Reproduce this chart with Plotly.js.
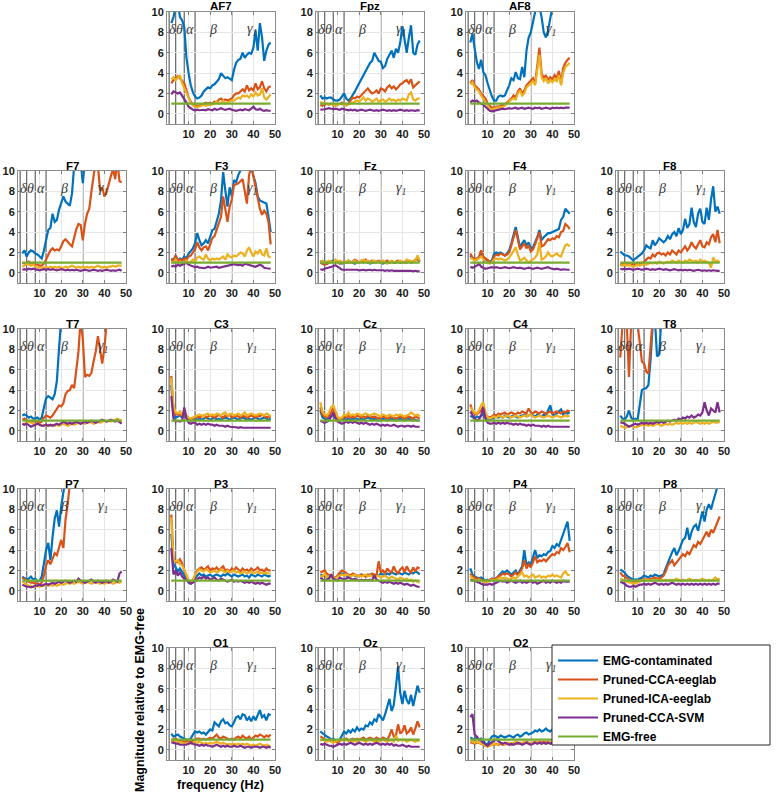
<!DOCTYPE html>
<html>
<head>
<meta charset="utf-8">
<script src="https://cdn.plot.ly/plotly-3.0.1.min.js"></script>
<style>html,body{margin:0;padding:0;background:#fff;}#chart{width:780px;height:792px;}</style>
</head>
<body>
<div id="chart"></div>
<script>
// ---------------- DATA ----------------
const freqs = [2,3,4,5,6,7,8,9,10,11,12,13,14,15,16,17,18,19,20,21,22,23,24,25,26,27,28,29,30,31,32,33,34,35,36,37,38,39,40,41,42,43,44,45,46,47,48];
const emgFree = [1,1,1,1,1,1,1,1,1,1,1,1,1,1,1,1,1,1,1,1,1,1,1,1,1,1,1,1,1,1,1,1,1,1,1,1,1,1,1,1,1,1,1,1,1,1,1];
const seriesNames = ['EMG-contaminated','Pruned-CCA-eeglab','Pruned-ICA-eeglab','Pruned-CCA-SVM','EMG-free'];
const channels = ['AF7','Fpz','AF8','F7','F3','Fz','F4','F8','T7','C3','Cz','C4','T8','P7','P3','Pz','P4','P8','O1','Oz','O2'];
const xTickVals = [10,20,30,40,50];
const yTickVals = [0,2,4,6,8,10];
const bandEdges = [1,4,8,13,30];
const bandLabels = ['δ','θ','α','β','γ<sub>1</sub>'];
const bandLabelFreq = [2.5,6,10.6,21.5,39.5];
const bandLabelLevel = 8.3;

const AF7_emg = [8.9,9.5,10.5,11,9.5,9.2,8.5,5.5,4.0,2.8, 2.1,1.7,1.5,1.6,1.8,2.2,2.4,2.6,2.5,2.8, 2.9,3.1,3.4,4.0,3.7,3.5,3.6,3.4,3.3,4.3, 5.0,5.3,5.4,6.0,5.5,5.8,6.0,5.9,6.5,8.2, 6.2,8.9,7.5,5.2,6.2,6.8,7.0];
const AF7_cca = [3.0,3.3,3.4,3.7,3.5,3.3,3.0,2.3,1.6,1.2, 0.9,0.8,0.75,0.8,0.9,1.0,1.1,1.0,1.1,1.0, 1.2,1.1,1.4,1.5,1.3,1.4,1.3,1.4,1.5,1.8, 2.0,2.0,2.2,2.4,2.2,2.8,2.3,2.5,2.3,3.0, 2.4,2.6,3.2,2.5,2.2,2.6,2.7];
const AF7_ica = [3.4,3.6,3.3,3.5,3.8,3.0,2.5,2.0,1.5,1.1, 0.8,0.7,0.65,0.7,0.8,0.9,0.8,0.9,0.85,0.9, 1.0,1.2,1.0,1.1,1.3,1.0,1.1,1.2,1.3,1.3, 1.5,1.6,1.5,1.8,1.7,1.8,1.6,1.9,1.7,2.1, 1.8,1.9,2.5,1.6,1.4,1.7,1.9];
const AF7_svm = [1.9,2.2,2.1,2.0,2.1,1.8,1.5,1.1,0.7,0.5, 0.4,0.35,0.4,0.35,0.4,0.4,0.35,0.45,0.4,0.35, 0.5,0.4,0.45,0.55,0.45,0.4,0.45,0.5,0.4,0.35, 0.3,0.35,0.4,0.35,0.45,0.4,0.35,0.5,0.7,0.45, 0.4,0.5,0.35,0.3,0.35,0.3,0.3];

const Fpz_emg = [1.8,1.5,1.6,1.5,1.6,1.6,1.4,1.3,1.3,1.4, 1.7,2.0,1.5,1.3,1.5,1.8,2.2,2.6,3.0,3.5, 3.8,4.2,4.6,5.0,5.2,6.0,5.6,5.2,5.1,4.5, 4.7,5.4,5.8,6.2,5.5,6.4,6.0,7.0,8.6,7.2, 6.0,7.5,8.7,6.0,5.8,6.8,7.2];
const Fpz_cca = [0.9,0.8,0.9,1.0,0.9,1.0,0.9,0.8,0.9,1.0, 1.1,1.0,0.9,1.0,1.3,1.6,1.5,1.7,1.6,1.8, 2.0,2.2,2.5,2.2,2.0,2.1,2.3,2.0,2.5,2.4, 2.2,2.6,2.8,2.5,2.7,2.4,2.6,2.9,3.0,3.2, 3.3,3.0,3.4,2.6,2.8,3.1,3.2];
const Fpz_ica = [1.2,1.0,1.1,1.0,0.9,1.0,0.9,0.8,0.9,1.0, 0.9,1.0,0.8,0.9,1.0,1.1,1.2,1.3,1.2,1.4, 1.6,1.3,1.5,1.4,1.2,1.3,1.5,1.2,1.3,1.4, 1.2,1.3,1.5,1.3,1.4,1.2,1.4,1.3,1.5,1.4, 1.3,1.9,2.1,1.4,1.3,1.5,1.5];
const Fpz_svm = [0.4,0.4,0.45,0.5,0.55,0.5,0.45,0.5,0.45,0.4, 0.5,0.45,0.4,0.35,0.4,0.35,0.4,0.3,0.35,0.4, 0.35,0.3,0.35,0.4,0.35,0.3,0.35,0.3,0.35,0.4, 0.35,0.3,0.35,0.3,0.35,0.3,0.35,0.4,0.35,0.3, 0.35,0.3,0.35,0.3,0.3,0.35,0.3];

const AF8_emg = [7.0,7.9,6.4,5.1,4.4,5.3,4.1,3.8,3.0,2.3, 1.7,1.3,1.3,1.7,1.8,1.7,1.8,2.3,2.8,3.5, 3.3,4.1,3.5,3.4,4.6,3.6,6.2,7.5,8.0,9.0, 10.5,11,10.5,9.5,8.0,7.5,8.2,9.5,10.5,11, 11,11,11,11,11,11,11];
const AF8_cca = [3.0,3.3,2.8,2.6,2.4,2.0,1.8,1.5,1.0,0.8, 0.6,0.6,0.7,0.7,0.8,0.9,0.9,1.1,1.2,1.5, 1.8,1.6,2.2,2.5,2.0,2.3,2.8,3.0,3.2,3.5, 3.0,5.0,6.5,4.0,3.5,3.8,3.3,3.6,3.4,3.8, 3.5,4.2,3.0,4.5,5.0,5.3,5.5];
const AF8_ica = [2.9,3.1,2.6,2.4,2.2,1.8,1.5,1.2,0.8,0.5, 0.4,0.5,0.6,0.6,0.7,0.6,0.8,1.0,1.1,1.4, 1.5,1.4,2.0,2.3,1.8,2.0,2.6,2.8,2.9,3.2, 2.8,4.5,5.8,3.6,3.2,3.5,3.0,3.3,3.1,3.4, 3.2,3.8,2.8,4.0,4.6,4.8,5.0];
const AF8_svm = [1.1,1.3,1.2,1.3,1.1,1.0,0.9,0.7,0.5,0.3, 0.25,0.3,0.35,0.4,0.45,0.5,0.45,0.5,0.55,0.5, 0.55,0.6,0.5,0.55,0.6,0.5,0.55,0.6,0.55,0.5, 0.6,0.55,0.6,0.5,0.55,0.6,0.55,0.5,0.6,0.55, 0.6,0.55,0.6,0.55,0.6,0.6,0.6];

const F7_emg = [1.9,2.2,1.6,2.0,2.2,2.1,1.9,1.8,1.6,1.4, 2.2,3.2,4.2,4.4,5.8,5.0,5.2,6.2,6.8,7.5, 7.0,6.8,6.6,7.8,10.5,11,11,11,8.8,11, 11,11,11,11,11,11,11,11,11,11, 11,11,11,11,11,11,11];
const F7_cca = [1.0,0.9,1.0,1.1,0.9,1.0,0.9,0.8,0.7,0.7, 0.9,1.3,1.8,2.2,2.4,2.2,2.3,2.2,2.6,3.1, 3.3,3.0,2.8,2.6,3.4,4.3,4.8,4.7,3.2,4.8, 5.8,6.3,8.0,9.6,11,10.5,8.1,8.4,7.5,7.9, 8.8,9.5,10.2,9.2,11,9.0,8.9];
const F7_ica = [0.6,0.7,0.9,0.8,0.7,0.8,0.6,0.5,0.5,0.5, 0.5,0.6,0.5,0.6,0.5,0.6,0.5,0.6,0.5,0.5, 0.6,0.5,0.6,0.7,0.6,0.5,0.6,0.5,0.6,0.5, 0.6,0.5,0.6,0.5,0.6,0.7,0.6,0.5,0.6,0.5, 0.6,0.6,0.7,0.6,0.7,0.7,0.7];
const F7_svm = [0.3,0.35,0.3,0.4,0.35,0.4,0.35,0.3,0.25,0.3, 0.35,0.3,0.35,0.3,0.35,0.3,0.25,0.3,0.35,0.3, 0.25,0.3,0.25,0.3,0.25,0.3,0.25,0.2,0.25,0.3, 0.25,0.2,0.25,0.3,0.25,0.2,0.25,0.2,0.25,0.3, 0.25,0.2,0.25,0.2,0.25,0.3,0.2];

const F3_emg = [1.4,1.2,1.7,1.2,1.4,1.3,1.6,1.4,1.9,2.2, 2.4,2.9,3.9,3.2,2.7,2.9,3.2,2.9,3.5,4.2, 4.3,5.2,5.8,7.1,9.9,8.1,6.5,8.4,7.5,9.1, 8.9,9.6,10.2,10.5,10.2,11,11,10.5,9.5,8.8, 7.5,7.1,7.0,6.9,6.8,5.5,4.0];
const F3_cca = [1.3,1.2,1.7,1.2,1.3,1.2,1.4,1.3,1.6,1.7, 2.0,2.3,3.0,2.5,2.2,2.5,2.6,2.2,2.8,3.4, 3.6,4.2,4.8,5.5,7.5,6.3,5.0,6.5,7.2,8.6, 8.7,8.8,9.0,9.2,8.0,6.8,9.6,10.5,9.5,8.4, 7.3,6.3,5.7,6.1,5.8,5.0,2.8];
const F3_ica = [1.1,1.0,1.3,1.0,1.1,0.9,1.0,1.2,1.0,1.1, 1.3,1.1,1.5,1.6,1.4,1.3,1.8,1.4,1.2,1.4, 1.3,1.4,1.3,1.5,1.6,1.3,1.8,1.6,1.5,1.7, 1.6,1.8,2.0,1.9,1.6,2.2,2.5,2.0,1.6,2.1, 1.9,2.3,1.8,1.7,2.4,1.6,1.5];
const F3_svm = [0.6,0.7,0.6,0.8,0.7,0.8,0.9,1.0,0.8,0.7, 0.6,0.55,0.6,0.5,0.5,0.45,0.5,0.6,0.5,0.55, 0.6,0.6,0.5,0.55,0.6,0.65,0.7,0.75,0.8,0.85, 0.8,0.75,0.8,0.7,0.9,0.85,0.8,0.7,0.65,0.6, 0.7,0.8,0.7,0.5,0.45,0.4,0.4];

const Fz_emg = [1.2,1.0,1.1,0.9,1.0,1.1,1.2,1.0,1.1,1.0, 0.9,1.0,1.1,1.0,1.1,1.0,0.9,1.1,1.0,1.1, 1.0,1.1,1.0,0.9,1.0,1.1,1.0,1.1,1.0,0.9, 1.0,1.1,1.0,1.1,1.0,1.0,1.1,1.0,1.0,1.1, 1.0,1.1,1.0,1.1,1.2,1.4,1.1];
const Fz_cca = [1.0,0.9,0.8,0.9,1.0,1.1,1.0,1.2,1.1,0.9, 1.0,1.1,1.0,1.2,1.0,1.1,1.3,1.1,1.0,1.2, 1.1,1.3,1.0,1.1,1.2,1.0,1.1,1.2,1.1,1.0, 1.1,1.2,1.0,1.1,1.0,1.1,1.2,1.0,1.1,1.0, 1.1,1.2,1.0,1.1,1.3,1.4,1.1];
const Fz_ica = [1.1,1.2,1.0,1.1,1.2,1.1,1.0,1.3,1.1,1.2, 1.1,1.0,1.1,1.2,1.0,1.1,1.2,1.0,1.1,1.2, 1.3,1.1,1.2,1.0,1.1,1.2,1.0,1.1,1.0,1.2, 1.0,0.9,1.1,1.2,1.1,1.0,1.1,1.2,1.0,1.1, 1.3,1.1,1.2,1.1,1.2,1.7,1.2];
const Fz_svm = [0.35,0.3,0.4,0.45,0.5,0.55,0.65,0.75,0.6,0.4, 0.3,0.3,0.3,0.3,0.35,0.3,0.3,0.3,0.25,0.3, 0.3,0.25,0.3,0.3,0.25,0.3,0.25,0.25,0.3,0.25, 0.2,0.25,0.2,0.25,0.2,0.2,0.25,0.2,0.2,0.2, 0.2,0.2,0.2,0.15,0.2,0.15,0.15];

const F4_emg = [1.7,1.4,1.3,1.4,1.5,1.8,1.4,1.3,1.2,1.1, 1.2,1.9,2.0,1.9,2.0,1.8,1.7,1.9,2.2,2.9, 3.6,4.5,3.5,2.5,2.9,3.2,2.7,3.0,2.4,2.5, 3.0,3.5,4.2,3.2,3.5,3.7,3.9,3.9,4.0,4.1, 4.2,4.3,5.2,5.5,6.3,6.0,5.8];
const F4_cca = [1.9,1.5,1.4,1.3,1.6,2.2,1.6,1.4,1.3,1.1, 1.0,1.6,1.8,1.7,1.9,1.8,1.7,1.8,2.0,2.7, 3.4,4.2,3.3,2.3,2.6,2.9,2.4,2.7,2.1,2.3, 2.8,3.4,4.0,2.6,2.7,3.0,3.3,3.2,3.4,3.3, 3.6,3.5,4.0,4.1,4.8,4.6,4.3];
const F4_ica = [1.5,1.3,1.2,1.3,1.4,1.6,1.3,1.1,1.0,0.9, 1.0,1.3,1.4,1.3,1.4,1.3,1.2,1.3,1.5,1.8, 2.2,2.5,1.8,1.2,1.3,1.5,1.2,1.0,1.2,1.3, 1.5,1.8,3.0,1.3,1.4,1.6,2.0,1.7,1.6,1.8, 1.9,1.7,1.6,2.2,2.7,2.8,2.6];
const F4_svm = [0.6,0.5,0.6,0.7,0.9,0.6,0.5,0.4,0.45,0.5, 0.55,0.5,0.55,0.5,0.45,0.5,0.55,0.5,0.45,0.5, 0.55,0.5,0.45,0.5,0.45,0.4,0.45,0.5,0.45,0.4, 0.45,0.5,0.45,0.4,0.45,0.5,0.55,0.45,0.4,0.35, 0.4,0.35,0.3,0.35,0.3,0.3,0.3];

const F8_emg = [2.1,1.9,1.7,1.7,1.6,1.4,1.2,1.4,1.6,1.7, 1.9,2.2,2.7,2.5,2.4,3.2,2.7,3.0,3.4,3.2, 3.0,3.2,3.6,3.3,3.8,4.0,3.6,4.4,3.8,4.2, 5.3,4.4,4.8,6.4,5.0,4.5,5.8,6.3,5.0,4.8, 6.4,5.2,7.2,8.5,6.0,6.5,5.8];
const F8_cca = [0.9,0.8,0.9,0.8,0.9,0.8,0.9,0.8,0.9,0.9, 1.0,1.0,1.3,1.5,1.4,1.8,1.6,1.9,2.0,1.8, 1.9,1.7,2.0,1.8,2.2,2.0,1.8,2.2,2.0,2.3, 2.6,2.2,2.5,3.0,2.6,2.4,2.8,3.2,2.6,2.5, 3.0,2.8,3.5,3.8,3.0,4.2,2.9];
const F8_ica = [0.8,0.7,0.8,0.7,0.8,0.7,0.6,0.7,0.8,0.7, 0.8,0.9,0.8,0.9,1.0,0.9,1.0,0.9,1.1,1.0, 0.9,1.0,1.1,1.0,1.2,1.1,1.0,1.2,1.1,1.0, 1.2,1.1,1.3,1.2,1.1,1.2,1.0,1.3,1.1,1.2, 1.1,1.0,0.5,1.5,1.1,1.2,1.0];
const F8_svm = [0.4,0.35,0.4,0.35,0.4,0.35,0.3,0.35,0.4,0.35, 0.3,0.35,0.4,0.35,0.3,0.35,0.3,0.35,0.4,0.35, 0.3,0.35,0.3,0.25,0.3,0.35,0.3,0.25,0.3,0.25, 0.3,0.25,0.3,0.25,0.2,0.25,0.3,0.25,0.2,0.25, 0.2,0.25,0.2,0.25,0.2,0.2,0.2];

const T7_emg = [1.5,1.6,1.5,1.3,1.4,1.2,1.2,1.3,1.1,1.3, 2.3,3.2,3.4,3.2,3.1,3.6,4.9,8.1,11,11, 11,11,11,11,11,11,11,11,11,11, 11,11,11,11,11,11,11,11,11,11, 11,11,11,11,11,11,11];
const T7_cca = [1.1,1.2,1.0,0.9,1.0,0.9,1.0,0.9,0.8,0.9, 1.3,1.5,1.4,1.3,1.5,1.8,2.2,2.5,2.4,2.7, 3.6,3.9,4.0,4.5,4.2,5.8,7.8,11,9.0,5.3, 5.5,5.4,5.7,6.8,7.8,9.3,8.0,6.6,8.2,10.5, 11,11,11,11,11,11,11];
const T7_ica = [0.6,0.7,0.8,0.9,0.8,0.7,0.6,0.7,0.6,0.5, 0.6,0.5,0.6,0.5,0.6,0.5,0.6,0.5,0.6,0.7, 0.6,0.5,0.6,0.7,0.6,0.7,0.8,0.7,0.8,0.7, 0.8,0.9,0.8,0.7,0.8,0.9,0.8,0.9,1.0,0.9, 1.0,0.9,1.0,1.1,1.2,1.1,0.9];
const T7_svm = [0.7,0.6,0.7,0.5,0.4,0.5,0.6,0.7,0.6,0.5, 0.5,0.6,0.5,0.6,0.5,0.6,0.7,0.6,0.8,0.9, 0.8,0.7,0.8,0.7,0.8,0.9,0.8,0.7,0.8,0.9, 0.8,0.9,1.0,0.9,0.8,0.9,1.0,1.1,1.0,0.9, 1.0,1.1,1.0,0.9,1.0,0.8,0.7];

const C3_emg = [4.5,1.5,1.3,1.4,1.5,1.3,1.6,1.3,1.1,1.0, 1.1,1.2,1.1,1.2,1.1,1.2,1.3,1.2,1.1,1.2, 1.3,1.1,1.2,1.1,1.2,1.3,1.2,1.1,1.2,1.3, 1.2,1.1,1.2,1.3,1.2,1.1,1.2,1.1,1.2,1.3, 1.2,1.1,1.2,1.3,1.2,1.1,1.2];
const C3_cca = [5.4,2.0,1.6,1.7,1.5,1.6,1.8,1.4,1.2,1.1, 1.2,1.3,1.4,1.3,1.4,1.5,1.3,1.4,1.5,1.4, 1.3,1.4,1.6,1.4,1.3,1.5,1.4,1.6,1.3,1.4, 1.5,1.4,1.3,1.5,1.4,1.3,1.4,1.5,1.4,1.3, 1.5,1.4,1.6,1.4,1.3,1.4,1.3];
const C3_ica = [5.2,2.5,1.8,1.7,1.9,1.6,2.0,1.5,1.3,1.2, 1.3,1.4,1.5,1.6,1.5,1.4,1.6,1.7,1.5,1.6, 1.5,1.7,1.6,1.5,1.7,1.8,1.5,1.6,1.7,1.5, 1.6,1.7,1.5,1.6,1.8,1.5,1.6,1.7,1.6,1.5, 1.6,1.7,1.6,1.5,1.7,1.6,1.4];
const C3_svm = [3.4,1.2,0.9,1.0,0.9,1.0,2.3,1.2,0.8,0.7, 0.8,0.8,0.6,0.7,0.6,0.7,0.6,0.7,0.6,0.6, 0.5,0.6,0.5,0.5,0.5,0.4,0.5,0.4,0.4,0.4, 0.35,0.3,0.35,0.3,0.3,0.35,0.3,0.3,0.35,0.3, 0.3,0.35,0.3,0.3,0.3,0.3,0.3];

const Cz_emg = [2.0,1.3,1.2,1.1,1.3,1.5,1.6,1.3,1.1,1.0, 1.1,1.2,1.1,1.2,1.1,1.2,1.1,1.2,1.1,1.2, 1.1,1.2,1.3,1.2,1.1,1.2,1.1,1.0,1.1,1.2, 1.1,1.0,1.1,1.2,1.1,1.0,1.1,1.2,1.1,1.0, 1.1,1.2,1.1,1.0,1.1,1.0,1.0];
const Cz_cca = [2.3,1.6,1.4,1.3,1.5,1.8,2.2,1.7,1.2,1.1, 1.2,1.4,1.3,1.5,1.3,1.4,1.3,1.5,1.4,1.3, 1.4,1.3,1.5,1.4,1.3,1.4,1.3,1.2,1.3,1.4, 1.3,1.2,1.3,1.4,1.3,1.2,1.3,1.4,1.3,1.2, 1.3,1.4,1.3,1.2,1.4,1.3,1.2];
const Cz_ica = [2.8,1.9,1.6,1.5,1.8,2.3,2.5,2.0,1.4,1.2, 1.3,1.6,1.5,1.8,1.5,1.6,1.5,1.7,1.6,1.5, 1.6,1.7,1.6,1.5,1.6,1.7,1.6,1.5,1.4,1.6, 1.5,1.4,1.6,1.5,1.4,1.6,1.5,1.6,1.5,1.4, 1.5,1.6,1.8,1.6,1.5,1.6,1.4];
const Cz_svm = [1.0,0.9,0.8,0.9,1.0,1.4,1.8,1.2,0.9,0.8, 0.7,0.8,0.9,0.8,0.9,0.8,0.9,0.8,0.7,0.8, 0.7,0.8,0.7,0.6,0.7,0.6,0.7,0.6,0.5,0.6, 0.5,0.6,0.5,0.5,0.6,0.5,0.4,0.5,0.5,0.4, 0.5,0.5,0.4,0.5,0.4,0.4,0.4];

const C4_emg = [1.5,1.3,1.2,1.4,1.3,1.5,1.6,1.3,1.2,1.1, 1.2,1.3,1.4,1.3,1.4,1.3,1.5,1.4,1.3,1.4, 1.5,1.4,1.3,1.4,1.5,1.6,1.4,1.5,1.6,1.5, 1.4,1.6,1.5,1.4,1.6,1.5,2.0,2.5,1.6,1.5, 1.7,1.9,2.1,1.6,1.8,1.7,1.8];
const C4_cca = [2.6,1.9,1.7,1.6,1.8,2.0,2.4,1.6,1.4,1.3, 1.4,1.6,1.5,1.7,1.6,1.7,1.8,1.6,1.7,1.8, 1.7,1.6,1.8,1.7,1.9,1.8,1.7,2.2,1.8,1.7, 1.9,1.8,1.7,1.9,1.8,1.7,1.8,1.9,1.7,1.8, 1.9,1.8,1.7,1.9,1.8,2.0,1.9];
const C4_ica = [2.3,2.0,1.8,1.7,2.0,2.5,2.8,1.8,1.3,1.2, 1.3,1.4,1.3,1.5,1.4,1.3,1.4,1.5,1.4,1.3, 1.4,1.5,1.4,1.3,1.4,1.5,1.4,1.5,1.6,1.4, 1.3,1.4,1.5,1.4,1.3,1.4,1.5,1.4,1.3,1.4, 1.5,1.4,1.3,1.4,1.5,1.4,1.5];
const C4_svm = [1.9,1.5,1.2,1.0,1.1,1.5,2.3,1.2,0.8,0.7, 0.7,0.8,0.7,0.8,0.7,0.8,0.7,0.8,0.7,0.7, 0.6,0.7,0.6,0.7,0.6,0.6,0.5,0.6,0.5,0.6, 0.5,0.5,0.5,0.4,0.5,0.4,0.5,0.4,0.4,0.4, 0.4,0.4,0.4,0.4,0.4,0.4,0.4];

const T8_emg = [1.5,1.2,1.1,1.4,2.0,1.3,1.1,1.2,1.1,2.5, 4.0,4.1,4.2,4.5,7.0,10.5,11,7.3,7.5,11, 11,11,11,11,11,11,11,11,11,11, 11,11,11,11,11,11,11,11,11,11, 11,11,11,11,11,11,11];
const T8_cca = [7.2,10.5,11,10.5,5.3,10.5,11,11,10.5,8.5, 6.8,6.6,5.8,5.6,8.0,11,11,11,11,11, 11,11,11,11,11,11,11,11,11,11, 11,11,11,11,11,11,11,11,11,11, 11,11,11,11,11,11,11];
const T8_ica = [0.5,0.4,0.3,0.35,0.4,0.5,0.4,0.35,0.4,0.5, 0.6,0.5,0.6,0.5,0.6,0.5,0.6,0.7,0.6,0.5, 0.6,0.7,0.6,0.7,0.6,0.7,0.8,0.7,0.8,0.7, 0.8,0.7,0.8,0.7,0.8,0.9,0.8,0.7,0.8,0.7, 0.8,0.7,0.8,0.9,0.8,0.8,0.9];
const T8_svm = [0.8,0.8,0.7,0.5,0.4,0.5,0.6,0.7,0.6,0.7, 0.8,0.7,0.8,0.7,0.8,0.7,0.8,0.9,0.8,0.9, 0.8,0.9,1.0,0.9,1.0,1.1,1.0,1.2,1.1,1.3, 1.2,1.4,1.3,1.5,1.3,1.4,1.6,1.5,1.8,2.8, 2.0,1.5,2.2,2.0,1.8,2.8,1.8];

const P7_emg = [1.4,1.2,1.1,1.2,1.4,1.1,1.2,0.9,1.0,1.4, 2.7,4.0,4.7,3.0,5.3,7.1,7.9,6.3,8.3,9.9, 11,11,11,11,11,11,11,11,11,11, 11,11,11,11,11,11,11,11,11,11, 11,11,11,11,11,11,11];
const P7_cca = [1.3,1.1,1.0,0.9,0.8,0.8,0.7,0.7,0.6,0.8, 1.5,2.5,3.0,2.6,3.2,3.7,3.5,4.3,5.0,4.2, 7.0,8.5,10.5,11,11,11,11,11,11,11, 11,11,11,11,11,11,11,11,11,11, 11,11,11,11,11,11,11];
const P7_ica = [0.9,0.8,0.6,0.5,0.5,0.4,0.4,0.5,0.4,0.5, 0.5,0.6,0.5,0.6,0.5,0.6,0.5,0.6,0.7,0.6, 0.7,0.8,0.7,0.8,0.7,0.8,0.9,0.8,0.7,0.8, 0.9,0.8,0.7,0.8,0.9,0.8,0.7,0.8,0.7,0.8, 0.9,0.8,0.7,0.8,0.9,0.8,0.9];
const P7_svm = [0.6,0.5,0.4,0.4,0.35,0.4,0.5,0.5,0.6,0.5, 0.6,0.7,0.6,0.7,0.8,0.7,0.8,0.9,0.8,0.9, 1.0,0.9,0.8,0.9,1.0,0.9,1.2,1.0,0.9,0.8, 0.9,1.0,1.1,0.9,0.8,1.0,0.9,0.8,0.9,1.0, 0.8,0.9,1.1,1.0,0.9,1.7,1.9];

const P3_emg = [5.6,2.6,2.3,1.9,2.2,1.8,1.5,1.2,0.8,0.7, 0.9,1.2,1.5,1.7,1.5,1.6,1.4,1.5,1.6,1.4, 1.5,1.6,1.5,1.4,1.6,1.5,1.7,1.5,1.4,1.6, 1.5,1.4,1.5,1.6,1.4,1.5,1.3,1.6,1.5,1.4, 1.6,1.5,1.4,1.6,1.5,1.4,1.5];
const P3_cca = [7.5,3.0,2.9,2.8,3.1,2.7,2.0,1.4,1.0,0.8, 1.0,1.5,2.0,2.2,2.3,2.1,2.2,2.4,2.0,2.2, 2.1,2.3,2.0,2.2,2.4,2.0,2.1,1.9,2.2,2.0, 2.3,2.1,1.9,2.2,2.0,2.1,1.9,2.2,2.0,2.1, 2.3,2.0,2.1,1.9,2.2,2.0,2.0];
const P3_ica = [7.2,3.0,2.9,3.0,2.6,2.5,2.1,1.5,1.0,0.9, 1.1,1.6,1.9,2.1,2.0,1.9,2.1,2.0,1.8,1.9, 2.0,1.8,1.9,2.1,1.9,1.8,2.0,1.8,1.9,2.0, 1.8,1.9,1.7,1.8,1.9,1.7,1.8,1.9,1.7,1.8, 1.9,1.7,1.8,1.7,1.8,1.7,1.7];
const P3_svm = [4.2,1.6,2.0,1.5,1.8,1.4,1.2,1.0,0.8,0.7, 0.8,1.0,1.2,1.3,1.2,1.4,1.2,1.3,1.1,1.2, 1.3,1.1,1.0,1.2,1.1,1.0,0.9,1.0,1.1,0.9, 1.0,0.9,1.0,0.9,0.8,0.9,0.8,0.9,0.8,0.7, 0.8,0.7,0.8,0.7,0.6,0.7,0.7];

const Pz_emg = [1.6,1.5,1.5,1.3,1.4,1.4,1.2,1.3,1.4,1.6, 1.7,1.6,1.5,1.4,1.5,1.6,1.5,1.4,1.5,1.6, 1.5,1.4,1.5,1.6,1.5,1.4,1.6,1.5,1.7,1.6, 1.5,1.7,1.6,1.8,1.7,1.6,1.8,1.7,1.6,1.8, 1.7,1.6,1.8,1.7,1.9,1.8,1.6];
const Pz_cca = [1.8,1.9,2.0,1.7,1.5,1.6,1.3,1.3,1.5,1.8, 2.0,1.9,1.7,1.6,1.5,1.7,1.6,1.5,1.4,1.6, 1.5,1.4,1.6,1.5,1.7,1.6,1.5,2.9,1.8,2.0, 1.7,2.2,1.9,1.8,2.4,1.9,1.7,2.1,2.3,1.8, 2.4,2.0,1.8,2.3,1.9,2.3,2.2];
const Pz_ica = [1.5,1.4,1.7,1.3,1.4,1.3,1.3,1.2,1.4,1.5, 1.6,1.5,1.6,1.5,1.4,1.5,1.6,1.4,1.5,1.4, 1.5,1.6,1.4,1.5,1.4,1.3,1.4,1.5,1.3,1.4, 1.5,1.3,1.2,1.4,1.3,1.2,1.1,1.3,1.2,1.1, 1.2,1.0,1.1,0.9,1.0,0.9,0.8];
const Pz_svm = [1.3,1.1,1.0,1.1,1.2,1.6,1.2,1.1,1.0,1.3, 1.2,1.1,1.2,1.3,1.2,1.1,1.2,1.1,1.0,1.1, 1.0,1.1,1.0,1.1,1.0,1.5,1.1,1.0,0.9,0.8, 0.9,0.8,0.9,0.8,0.7,0.8,0.7,0.8,0.7,0.6, 0.7,0.6,0.5,0.6,0.5,0.4,0.4];

const P4_emg = [2.2,1.6,1.4,1.3,1.2,1.3,1.1,1.0,1.1,1.0, 1.2,1.1,1.2,1.5,1.7,1.9,1.8,2.0,1.8,1.6, 1.8,2.0,1.6,2.0,2.4,4.0,2.5,2.8,2.6,3.3, 4.0,3.2,3.5,3.4,3.6,3.5,3.8,3.9,4.4,4.2, 4.6,4.4,5.0,5.5,6.3,6.8,4.9];
const P4_cca = [1.7,1.4,1.3,1.2,1.2,1.1,1.0,0.9,1.0,1.1, 1.2,1.1,1.3,1.4,1.5,1.7,1.6,1.7,1.6,1.4, 1.6,1.8,1.5,1.9,2.2,3.0,2.2,2.6,2.3,2.8, 3.4,2.8,3.0,2.9,3.1,2.9,3.2,3.4,3.6,3.5, 3.8,3.7,4.2,4.0,4.3,4.7,3.8];
const P4_ica = [1.5,1.2,1.1,1.0,1.1,1.0,0.9,0.8,0.9,1.0, 1.1,1.0,1.1,1.2,1.3,1.2,1.3,1.2,1.1,1.2, 1.3,1.2,1.4,1.5,1.8,1.4,1.5,1.3,1.5,1.6, 1.3,1.4,1.5,1.3,1.4,1.3,1.5,1.4,1.6,1.4, 1.5,1.4,1.3,1.7,1.9,1.6,1.5];
const P4_svm = [1.1,1.0,1.0,0.9,0.8,0.7,0.6,0.6,0.6,0.7, 0.6,0.7,0.8,0.9,1.0,0.9,1.0,0.8,0.9,1.0, 0.9,0.8,0.9,1.0,0.8,0.9,0.8,0.9,1.0,0.8, 0.9,0.7,0.8,0.9,1.0,0.8,0.9,0.8,1.0,0.9, 0.8,0.9,0.8,1.0,0.9,0.9,0.9];

const P8_emg = [2.1,1.9,1.8,1.5,1.3,1.2,1.1,1.1,1.1,1.2, 1.3,1.5,1.4,1.3,1.5,1.4,1.6,1.5,1.4,1.5, 1.6,2.2,2.8,3.3,3.8,4.2,3.5,3.9,4.5,5.0, 5.2,6.2,5.0,5.8,6.3,6.5,5.9,7.0,7.8,6.8, 8.0,8.5,8.0,8.8,9.7,10.5,11];
const P8_cca = [1.8,1.5,1.4,1.2,1.1,1.0,0.9,0.9,1.0,1.0, 1.1,1.2,1.1,1.1,1.2,1.2,1.3,1.2,1.2,1.3, 1.5,1.9,2.5,2.8,3.0,2.5,2.8,3.0,3.3,3.6, 3.4,3.8,3.6,4.0,4.5,4.3,4.8,4.6,5.0,5.4, 5.8,5.3,6.0,5.7,6.3,6.8,7.3];
const P8_ica = [1.2,1.1,1.0,0.9,0.8,0.8,0.7,0.7,0.8,0.9, 1.0,1.1,1.0,1.1,1.0,1.1,1.0,1.1,1.0,1.1, 1.0,1.1,1.0,1.1,1.0,1.1,1.2,1.1,1.0,1.1, 1.0,1.1,1.2,1.1,1.0,1.1,1.0,1.1,1.2,1.1, 1.0,1.1,1.0,1.1,1.3,1.1,1.2];
const P8_svm = [0.9,0.8,0.7,0.5,0.4,0.4,0.5,0.4,0.5,0.6, 0.6,0.7,0.6,0.7,0.6,0.7,0.8,0.7,0.6,0.7, 0.6,0.7,0.6,0.7,0.8,0.7,0.6,0.7,0.6,0.7, 0.6,0.7,0.6,0.7,0.6,0.7,0.6,0.7,0.6,0.7, 0.6,0.7,0.6,0.7,0.6,0.7,0.7];

const O1_emg = [1.6,1.3,1.4,1.5,1.3,1.2,1.1,1.0,1.0,1.1, 1.5,1.8,1.7,1.8,1.6,1.7,1.5,1.7,2.0,1.9, 2.7,2.5,2.3,2.8,3.0,2.6,2.7,2.4,2.3,2.7, 3.2,3.3,3.0,3.5,3.4,2.9,3.2,2.8,3.3,2.9, 3.5,3.9,3.2,3.4,2.9,3.5,3.4];
const O1_cca = [1.0,1.0,1.1,0.9,0.9,0.9,0.8,0.8,0.9,0.8, 0.9,1.0,1.1,1.1,1.0,1.1,1.0,1.1,1.2,1.1, 1.3,1.5,1.2,1.1,1.3,1.2,1.1,1.0,1.1,1.0, 1.2,1.3,1.1,1.4,1.2,1.1,1.3,1.0,1.2,1.4, 1.3,1.5,1.4,1.2,1.4,1.3,1.5];
const O1_ica = [0.9,0.8,0.9,0.8,0.7,0.7,0.6,0.6,0.7,0.6, 0.7,0.8,0.7,0.8,0.7,0.6,0.7,0.6,0.7,0.6, 0.7,0.8,0.7,0.6,0.7,0.6,0.5,0.6,0.5,0.6, 0.5,0.6,0.5,0.6,0.5,0.6,0.5,0.4,0.5,0.4, 0.5,0.6,0.5,0.4,0.5,0.4,0.4];
const O1_svm = [0.7,0.7,0.6,0.6,0.5,0.5,0.5,0.5,0.6,0.7, 0.6,0.5,0.5,0.4,0.5,0.4,0.5,0.4,0.4,0.3, 0.4,0.5,0.4,0.3,0.4,0.3,0.4,0.3,0.3,0.4, 0.3,0.3,0.4,0.3,0.2,0.3,0.3,0.2,0.3,0.3, 0.3,0.2,0.3,0.3,0.2,0.3,0.2];

const Oz_emg = [1.8,1.6,1.4,1.3,1.2,1.0,1.1,0.9,0.7,1.0, 1.4,1.8,1.6,1.9,1.7,2.0,1.8,2.2,1.9,2.1, 2.0,2.4,2.3,2.7,2.5,3.0,2.8,3.5,3.2,2.9, 3.5,4.2,5.0,3.8,4.4,6.2,8.2,5.6,4.5,5.8, 4.9,4.5,5.4,4.3,5.3,6.3,5.6];
const Oz_cca = [1.3,1.2,1.0,0.9,1.0,0.9,0.8,0.8,0.7,0.9, 1.0,1.0,1.1,0.9,1.0,1.1,1.0,1.1,1.0,1.1, 1.2,1.0,1.1,1.2,1.1,1.0,1.2,1.1,1.0,1.2, 1.1,1.0,1.4,2.0,1.3,1.4,2.5,1.6,1.8,2.4, 1.6,1.8,2.2,1.5,2.1,2.8,2.2];
const Oz_ica = [0.9,1.0,0.9,0.8,0.9,0.8,0.7,0.8,0.9,1.0, 0.9,1.0,0.9,1.0,0.9,0.8,0.9,0.8,0.9,1.0, 0.9,0.8,0.9,1.0,0.9,0.8,0.9,0.8,0.9,1.0, 0.9,0.8,0.9,1.0,0.8,1.4,0.9,1.0,0.9,1.0, 0.8,0.9,1.0,0.9,0.8,0.9,0.9];
const Oz_svm = [0.6,0.5,0.6,0.5,0.4,0.4,0.3,0.4,0.5,0.6, 0.5,0.6,0.5,0.6,0.7,0.6,0.5,0.6,0.7,0.6, 0.5,0.6,0.5,0.6,0.5,0.6,0.7,0.6,0.5,0.6, 0.5,0.6,0.5,0.6,0.4,0.5,0.4,0.4,0.5,0.4, 0.3,0.4,0.3,0.3,0.3,0.3,0.3];

const O2_emg = [1.2,1.1,1.0,1.2,1.0,1.1,0.9,0.6,0.5,1.0, 1.3,1.4,1.3,1.2,1.4,1.3,1.2,1.3,1.4,1.3, 1.2,1.4,1.5,1.3,1.4,1.6,1.7,1.5,1.6,1.7, 1.9,1.8,2.0,1.8,1.9,2.1,1.9,1.8,2.0,1.8, 2.1,2.6,2.3,2.4,2.7,2.5,2.4];
const O2_cca = [0.7,0.7,0.6,0.7,0.7,0.6,0.5,0.4,0.4,0.5, 0.6,0.5,0.6,0.5,0.6,0.5,0.6,0.7,0.6,0.5, 0.6,0.7,0.6,0.7,0.6,0.7,0.8,0.7,0.6,0.7, 0.8,0.7,0.8,0.7,0.8,0.7,0.8,0.7,0.6,0.7, 0.8,0.7,0.6,0.7,0.8,0.7,0.7];
const O2_ica = [0.9,0.8,0.7,0.8,0.7,0.6,0.5,0.4,0.3,0.4, 0.5,0.6,0.5,0.6,0.7,0.6,0.5,0.6,0.7,0.6, 0.7,0.8,0.7,0.6,0.7,0.8,0.7,0.6,0.7,0.6, 0.7,0.8,0.7,0.6,0.7,0.6,0.7,0.8,0.7,0.6, 0.7,0.6,0.7,0.6,0.7,0.6,0.6];
const O2_svm = [3.2,3.5,1.5,1.3,1.0,0.9,0.7,0.5,0.4,0.6, 0.8,0.9,1.0,0.8,0.7,0.6,0.7,0.6,0.5,0.6, 0.5,0.6,0.7,0.6,0.5,0.6,0.7,0.6,0.5,0.6, 0.7,0.6,0.7,0.6,0.7,0.6,0.7,0.6,0.7,0.6, 0.7,0.7,0.6,0.7,0.8,0.7,0.6];

const channelSeries = {
  AF7:[AF7_emg,AF7_cca,AF7_ica,AF7_svm], Fpz:[Fpz_emg,Fpz_cca,Fpz_ica,Fpz_svm], AF8:[AF8_emg,AF8_cca,AF8_ica,AF8_svm],
  F7:[F7_emg,F7_cca,F7_ica,F7_svm], F3:[F3_emg,F3_cca,F3_ica,F3_svm], Fz:[Fz_emg,Fz_cca,Fz_ica,Fz_svm], F4:[F4_emg,F4_cca,F4_ica,F4_svm], F8:[F8_emg,F8_cca,F8_ica,F8_svm],
  T7:[T7_emg,T7_cca,T7_ica,T7_svm], C3:[C3_emg,C3_cca,C3_ica,C3_svm], Cz:[Cz_emg,Cz_cca,Cz_ica,Cz_svm], C4:[C4_emg,C4_cca,C4_ica,C4_svm], T8:[T8_emg,T8_cca,T8_ica,T8_svm],
  P7:[P7_emg,P7_cca,P7_ica,P7_svm], P3:[P3_emg,P3_cca,P3_ica,P3_svm], Pz:[Pz_emg,Pz_cca,Pz_ica,Pz_svm], P4:[P4_emg,P4_cca,P4_ica,P4_svm], P8:[P8_emg,P8_cca,P8_ica,P8_svm],
  O1:[O1_emg,O1_cca,O1_ica,O1_svm], Oz:[Oz_emg,Oz_cca,Oz_ica,Oz_svm], O2:[O2_emg,O2_cca,O2_ica,O2_svm]
};

// ---------------- LAYOUT / STYLE ----------------
const W = 780, H = 792;
const colors = ['#0072BD','#D95319','#EDB120','#7E2F8E','#77AC30'];
const gridPos = [[0,1],[0,2],[0,3],[1,0],[1,1],[1,2],[1,3],[1,4],[2,0],[2,1],[2,2],[2,3],[2,4],[3,0],[3,1],[3,2],[3,3],[3,4],[4,1],[4,2],[4,3]];
const colLeft = [18,167,316,466,616];
const rowTop = [12,171,329,489,648];
const plotW = 108, plotH = 112;
const legendBox = {left: 552, top: 645, right: 770, bottom: 745};
const FONT = 'Liberation Sans, Arial, Helvetica, sans-serif';
const SERIF = 'Liberation Serif, Times New Roman, serif';

const traces = [];
const layout = {
  width: W, height: H,
  margin: {l:0, r:0, t:0, b:0},
  paper_bgcolor: '#ffffff', plot_bgcolor: '#ffffff',
  showlegend: true,
  hovermode: false,
  shapes: [], annotations: [],
  legend: {
    x: (legendBox.left + 1) / W, y: 1 - (legendBox.top + 1) / H, xanchor: 'left', yanchor: 'top',
    bgcolor: 'rgba(0,0,0,0)', borderwidth: 0,
    font: {family: FONT, size: 12, color: '#000000', weight: 'bold'},
    itemwidth: 40, tracegroupgap: 0, traceorder: 'normal'
  }
};

// legend frame
layout.shapes.push({type: 'rect', xref: 'paper', yref: 'paper',
  x0: legendBox.left / W, x1: legendBox.right / W, y0: 1 - legendBox.bottom / H, y1: 1 - legendBox.top / H,
  line: {color: '#262626', width: 1}, fillcolor: '#ffffff', layer: 'above'});

channels.forEach((ch, i) => {
  const s = i === 0 ? '' : String(i + 1);
  const [r, c] = gridPos[i];
  const left = colLeft[c], top = rowTop[r];
  layout['xaxis' + s] = {
    domain: [left / W, (left + plotW) / W], anchor: 'y' + s,
    range: [0, 50], tickmode: 'array', tickvals: xTickVals,
    ticks: 'inside', ticklen: 3, tickcolor: '#7f7f7f',
    showline: true, linecolor: '#8c8c8c', linewidth: 1, mirror: 'ticks',
    showgrid: true, gridcolor: '#e6e6e6', gridwidth: 1, zeroline: false,
    tickfont: {family: FONT, size: 11, color: '#1a1a1a', weight: 'bold'}, fixedrange: true
  };
  layout['yaxis' + s] = {
    domain: [1 - (top + plotH) / H, 1 - top / H], anchor: 'x' + s,
    range: [-1, 10], tickmode: 'array', tickvals: yTickVals,
    ticks: 'inside', ticklen: 3, tickcolor: '#7f7f7f',
    showline: true, linecolor: '#8c8c8c', linewidth: 1, mirror: 'ticks',
    showgrid: true, gridcolor: '#e6e6e6', gridwidth: 1, zeroline: false,
    tickfont: {family: FONT, size: 11, color: '#1a1a1a', weight: 'bold'}, fixedrange: true
  };
  const series = channelSeries[ch].concat([emgFree]);
  series.forEach((ys, k) => {
    traces.push({
      type: 'scatter', mode: 'lines', x: freqs, y: ys,
      xaxis: 'x' + s, yaxis: 'y' + s,
      name: seriesNames[k], legendgroup: seriesNames[k], showlegend: i === 0,
      line: {color: colors[k], width: 2.2}, hoverinfo: 'skip'
    });
  });
  bandEdges.forEach(e => {
    layout.shapes.push({type: 'line', xref: 'x' + s, yref: 'y' + s + ' domain', x0: e, x1: e, y0: 0, y1: 1,
      line: {color: '#707070', width: 1.3}, layer: 'below'});
  });
  bandLabels.forEach((lab, k) => {
    layout.annotations.push({xref: 'x' + s, yref: 'y' + s, x: bandLabelFreq[k], y: bandLabelLevel,
      text: '<i>' + lab + '</i>', showarrow: false, xanchor: 'center', yanchor: 'middle',
      font: {family: SERIF, size: 14, color: '#3a3a3a'}});
  });
  layout.annotations.push({xref: 'x' + s + ' domain', yref: 'y' + s + ' domain', x: 0.5, y: 1,
    xanchor: 'center', yanchor: 'bottom', yshift: -1.5, borderpad: 0, showarrow: false,
    text: '<b>' + ch + '</b>', font: {family: FONT, size: 11.5, color: '#000000'}});
});

layout.annotations.push({xref: 'paper', yref: 'paper', x: 140 / W, y: 1 - 700 / H, textangle: -90,
  xanchor: 'center', yanchor: 'middle', showarrow: false,
  text: '<b>Magnitude relative to EMG-free</b>', font: {family: FONT, size: 12.5, color: '#000000'}});
layout.annotations.push({xref: 'paper', yref: 'paper', x: 220 / W, y: 1 - 785 / H,
  xanchor: 'center', yanchor: 'middle', showarrow: false,
  text: '<b>frequency (Hz)</b>', font: {family: FONT, size: 12.5, color: '#000000'}});

Plotly.newPlot('chart', traces, layout, {staticPlot: true, displayModeBar: false});
</script>
</body>
</html>
